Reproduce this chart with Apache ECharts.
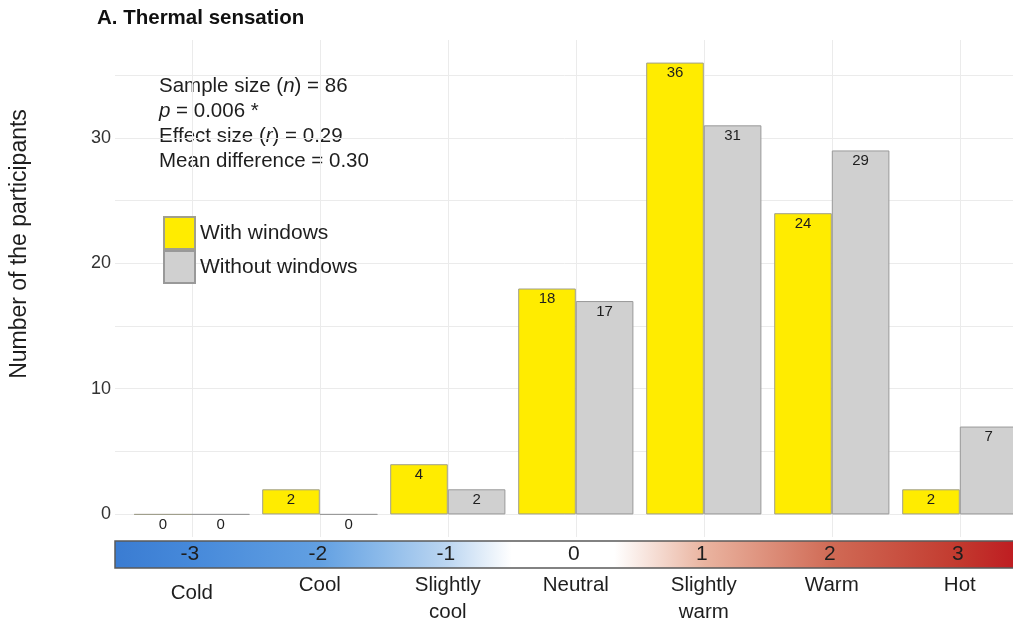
<!DOCTYPE html>
<html>
<head>
<meta charset="utf-8">
<title>A. Thermal sensation</title>
<script src="https://cdn.jsdelivr.net/npm/echarts@6/dist/echarts.min.js"></script>
<style>
  html, body { margin: 0; padding: 0; background: #ffffff; }
  #chart { width: 1013px; height: 624px; }
</style>
</head>
<body>
<div id="chart"></div>
<script>
// Thermal sensation votes, with and without windows
const categories = ['Cold', 'Cool', 'Slightly\ncool', 'Neutral', 'Slightly\nwarm', 'Warm', 'Hot'];
const scaleValues = [-3, -2, -1, 0, 1, 2, 3];
const scaleLabels = ['-3', '-2', '-1', '0', '1', '2', '3'];
const seriesNames = ['With windows', 'Without windows'];
const withWindows = [0, 2, 4, 18, 36, 24, 2];
const withoutWindows = [0, 0, 2, 17, 31, 29, 7];
const yTickLabels = [0, 10, 20, 30];
const statsText = 'Sample size ({i|n}) = 86\n{i|p} = 0.006 *\nEffect size ({i|r}) = 0.29\nMean difference = 0.30';

const FONT = '"Liberation Sans", Arial, Helvetica, sans-serif';
const TEXT = '#1e1e1e';
const GRID_LINE = '#ebebeb';

// one category band in pixels; the panel keeps 0.6 band of padding on each side
const BAND = 128;

// diverging blue - white - red scale behind the sensation codes (-3.6 .. 3.6)
function stop(v, color) { return { offset: (v + 3.6) / 7.2, color: color }; }
const scaleStops = [
  stop(-3.6, '#3a7cd2'),
  stop(-3.0, '#4689da'),
  stop(-2.0, '#62a0e2'),
  stop(-1.5, '#8dbbea'),
  stop(-1.0, '#bcd6f1'),
  stop(-0.5, '#ffffff'),
  stop(0.3, '#ffffff'),
  stop(1.0, '#eab4a0'),
  stop(2.0, '#d06a55'),
  stop(3.0, '#c2392e'),
  stop(3.6, '#bd101c')
];

const chart = echarts.init(document.getElementById('chart'), null, { renderer: 'canvas' });

const barLabel = {
  show: true,
  position: 'insideTop',
  distance: 3,
  fontSize: 15,
  fontFamily: FONT,
  color: TEXT
};

// the panel is wider than the canvas and is cut off at the right edge
const gridBase = { outerBoundsMode: 'none', containLabel: false };

const option = {
  backgroundColor: '#ffffff',
  animation: false,
  textStyle: { fontFamily: FONT },
  grid: [
    // horizontal grid lines and count labels
    Object.assign({ left: 115, width: BAND * 7.2, top: 40, bottom: 110 }, gridBase),
    // bars and vertical grid lines
    Object.assign({ left: 115 + BAND * 0.1, width: BAND * 7, top: 40, bottom: 87 }, gridBase),
    // colour scale strip
    Object.assign({ left: 115, width: BAND * 7.2, top: 541, height: 27 }, gridBase)
  ],
  xAxis: [
    { gridIndex: 0, type: 'value', min: 0, max: 1, show: false },
    {
      gridIndex: 1,
      type: 'category',
      data: categories,
      axisLine: { show: false },
      axisTick: { show: false, alignWithLabel: true },
      axisLabel: { show: false },
      splitLine: { show: true, alignWithLabel: true, interval: 0, lineStyle: { color: GRID_LINE, width: 1 } }
    },
    { gridIndex: 2, type: 'value', min: -3.6, max: 3.6, show: false }
  ],
  yAxis: [
    {
      gridIndex: 0,
      type: 'value',
      min: 0,
      max: 37.8,
      interval: 5,
      axisLine: { show: false },
      axisTick: { show: false },
      axisLabel: {
        margin: 4,
        fontSize: 18,
        color: '#333333',
        fontFamily: FONT,
        formatter: function (v) { return yTickLabels.indexOf(v) >= 0 ? String(v) : ''; }
      },
      splitLine: { show: true, showMaxLine: false, lineStyle: { color: GRID_LINE, width: 1 } }
    },
    { gridIndex: 1, type: 'value', min: -1.8, max: 37.8, show: false, splitLine: { show: false } },
    { gridIndex: 2, type: 'value', min: 0, max: 1, show: false }
  ],
  legend: {
    orient: 'vertical',
    left: 163,
    top: 216,
    itemWidth: 31,
    itemHeight: 32,
    itemGap: 0,
    icon: 'rect',
    padding: 0,
    data: seriesNames,
    textStyle: { fontSize: 21, color: TEXT, fontFamily: FONT, padding: [4, 0, 0, 0] },
    selectedMode: false
  },
  graphic: [
    {
      type: 'text',
      left: 97,
      top: 8,
      style: { text: 'A. Thermal sensation', fontSize: 20.5, fontWeight: 'bold', fontFamily: FONT, fill: '#111111' }
    },
    {
      type: 'text',
      x: 20,
      y: 244,
      rotation: Math.PI / 2,
      style: {
        text: 'Number of the participants',
        fontSize: 23,
        fontFamily: FONT,
        fill: TEXT,
        align: 'center',
        verticalAlign: 'middle'
      }
    },
    {
      type: 'text',
      left: 159,
      top: 73.5,
      style: {
        text: statsText,
        fontSize: 20.5,
        lineHeight: 25,
        fontFamily: FONT,
        fill: TEXT,
        rich: {
          i: { fontStyle: 'italic', fontSize: 20.5, lineHeight: 25, fontFamily: FONT, fill: TEXT }
        }
      }
    }
  ],
  series: [
    {
      name: seriesNames[0],
      type: 'bar',
      xAxisIndex: 1,
      yAxisIndex: 1,
      data: withWindows,
      barGap: '0%',
      barCategoryGap: '10%',
      itemStyle: { color: '#ffec00', borderColor: '#a09f8c', borderWidth: 1 },
      label: barLabel,
      z: 3
    },
    {
      name: seriesNames[1],
      type: 'bar',
      xAxisIndex: 1,
      yAxisIndex: 1,
      data: withoutWindows,
      barGap: '0%',
      barCategoryGap: '10%',
      itemStyle: { color: '#d0d0d0', borderColor: '#999999', borderWidth: 1 },
      label: barLabel,
      z: 3
    },
    {
      // colour strip with the numeric codes and the verbal sensation labels
      type: 'custom',
      xAxisIndex: 2,
      yAxisIndex: 2,
      data: scaleValues.map(function (v) { return [v]; }),
      silent: true,
      renderItem: function (params, api) {
        const i = params.dataIndex;
        const cs = params.coordSys;
        const centre = api.coord([api.value(0), 0.5]);
        const children = [];
        if (i === 0) {
          children.push({
            type: 'rect',
            shape: { x: cs.x, y: cs.y, width: cs.width, height: cs.height },
            style: {
              fill: new echarts.graphic.LinearGradient(0, 0, 1, 0, scaleStops),
              stroke: '#5a5a5a',
              lineWidth: 1.5
            },
            z2: 0
          });
        }
        children.push({
          type: 'text',
          style: {
            text: scaleLabels[i],
            x: centre[0] - 2,
            y: centre[1],
            align: 'center',
            verticalAlign: 'middle',
            fontSize: 21,
            fontFamily: FONT,
            fill: TEXT
          },
          z2: 10
        });
        // the first label ("Cold") is set a little lower than the rest
        const labelTop = cs.y + cs.height + (i === 0 ? 11.5 : 3.5);
        children.push({
          type: 'text',
          style: {
            text: categories[i],
            x: centre[0],
            y: labelTop,
            align: 'center',
            verticalAlign: 'top',
            lineHeight: 27,
            fontSize: 20.5,
            fontFamily: FONT,
            fill: TEXT
          },
          z2: 10
        });
        return { type: 'group', children: children };
      },
      z: 5
    }
  ]
};

chart.setOption(option);
</script>
</body>
</html>
